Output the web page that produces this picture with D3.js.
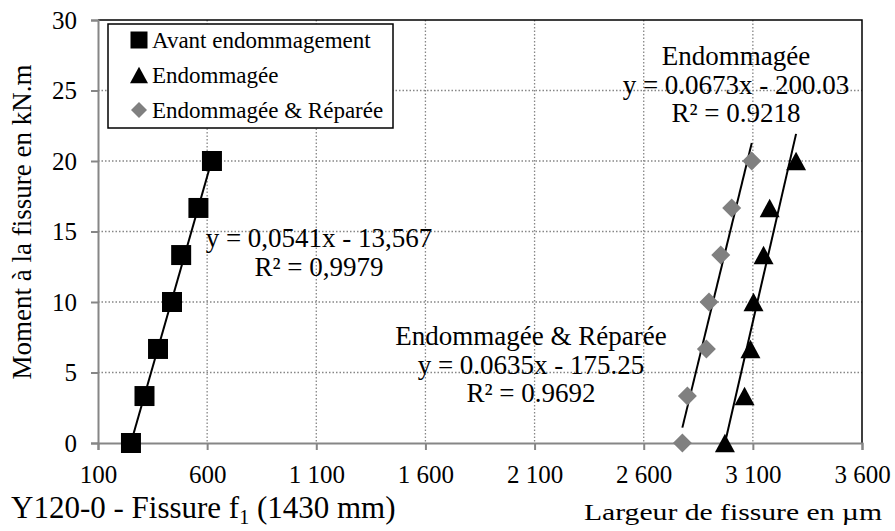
<!DOCTYPE html>
<html><head><meta charset="utf-8">
<script src="https://cdn.jsdelivr.net/npm/d3@7"></script>
<style>body{margin:0;background:#fff}svg{display:block}svg text{font-family:"Liberation Serif","Times New Roman",serif !important;fill:#000}</style>
</head><body><svg id="c" width="895" height="531"></svg>
<script>
const yLevels = [0, 3.33, 6.67, 10, 13.33, 16.67, 20];
const avantX = [251, 313, 375, 439, 481, 560, 622];
const endomX = [2972, 3062, 3089, 3103, 3149, 3177, 3298];
const repareX = [2777, 2800, 2887, 2899, 2953, 3003, 3095];
const seriesNames = ["Avant endommagement", "Endommagée", "Endommagée & Réparée"];
const slopes = [0.0541, 0.0673, 0.0635];
const intercepts = [-13.567, -200.03, -175.25];
const xTicks = [100, 600, 1100, 1600, 2100, 2600, 3100, 3600];
const yTicks = [0, 5, 10, 15, 20, 25, 30];

const FONT = '"Liberation Serif", "Times New Roman", serif';
const svg = d3.select("#c");
const L = 98, R = 862, T = 20, B = 443;
const x = d3.scaleLinear().domain([100, 3600]).range([L, R]);
const y = d3.scaleLinear().domain([0, 30]).range([B, T]);
const fmt = v => d3.format(",")(v).replace(/,/g, "\u00a0");
const grey = "#868686";

const sqSym = {draw(c, s){ const h = s/2; c.rect(-h, -h, s, s); }};
const triSym = {draw(c, s){ const w = s/2, h = s*0.46; c.moveTo(0, -h); c.lineTo(w, h); c.lineTo(-w, h); c.closePath(); }};
const diaSym = {draw(c, s){ const h = s/2; c.moveTo(0, -h); c.lineTo(h, 0); c.lineTo(0, h); c.lineTo(-h, 0); c.closePath(); }};

svg.append("g").selectAll("line").data(xTicks.slice(1, -1)).join("line")
  .attr("x1", d => x(d)).attr("x2", d => x(d)).attr("y1", T).attr("y2", B)
  .attr("stroke", grey).attr("stroke-width", 1.3).attr("stroke-dasharray", "1.5,2");
svg.append("g").selectAll("line").data(yTicks.slice(1, -1)).join("line")
  .attr("x1", L).attr("x2", R).attr("y1", d => y(d)).attr("y2", d => y(d))
  .attr("stroke", grey).attr("stroke-width", 1.3).attr("stroke-dasharray", "1.5,2");

svg.append("path").attr("d", `M${L},${T}H${R}V${B}`).attr("fill", "none").attr("stroke", "#000").attr("stroke-width", 1.5);

const xAxis = svg.append("g").attr("transform", `translate(0,${B})`)
  .call(d3.axisBottom(x).tickValues(xTicks).tickFormat(fmt).tickSize(7));
xAxis.selectAll("text").attr("y", 40).attr("dy", 0);
const yAxis = svg.append("g").attr("transform", `translate(${L},0)`)
  .call(d3.axisLeft(y).tickValues(yTicks).tickSize(7).tickPadding(14));
[xAxis, yAxis].forEach(a => {
  a.attr("font-family", FONT).attr("font-size", 25);
  a.select(".domain").attr("stroke", grey).attr("stroke-width", 2);
  a.selectAll(".tick line").attr("stroke", grey).attr("stroke-width", 2);
  a.selectAll("text").style("font-family", FONT).attr("font-size", 25).attr("fill", "#000");
});

const sets = [avantX, endomX, repareX];
sets.forEach((xs, i) => {
  const x0 = d3.min(xs), x1 = d3.max(xs);
  svg.append("line")
    .attr("x1", x(x0)).attr("y1", y(slopes[i] * x0 + intercepts[i]))
    .attr("x2", x(x1)).attr("y2", y(slopes[i] * x1 + intercepts[i]))
    .attr("stroke", "#000").attr("stroke-width", 2);
});

const sym = [sqSym, triSym, diaSym];
const sizes = [20, 20, 19];
const fills = ["#000", "#000", "#808080"];
sets.forEach((xs, i) => {
  svg.append("g").selectAll("path").data(xs.map((v, k) => [v, yLevels[k]])).join("path")
    .attr("transform", d => `translate(${x(d[0])},${y(d[1])})`)
    .attr("d", d3.symbol(sym[i], sizes[i])).attr("fill", fills[i]);
});

const lg = svg.append("g");
lg.append("rect").attr("x", 108).attr("y", 24).attr("width", 285).attr("height", 104)
  .attr("fill", "#fff").attr("stroke", "#000").attr("stroke-width", 1.5);
seriesNames.forEach((n, i) => {
  const base = 48 + i * 35;
  lg.append("path").attr("transform", `translate(139,${base - 8})`)
    .attr("d", d3.symbol(sym[i], [17, 18, 16][i])).attr("fill", fills[i]);
  lg.append("text").attr("x", 152).attr("y", base).style("font-family", FONT).attr("font-size", 23).text(n);
});

const ann = [
  {lines: ["y = 0,0541x - 13,567", "R² = 0,9979"], cx: 319, y0: 247},
  {lines: ["Endommagée", "y = 0.0673x - 200.03", "R² = 0.9218"], cx: 736, y0: 65},
  {lines: ["Endommagée & Réparée", "y = 0.0635x - 175.25", "R² = 0.9692"], cx: 531, y0: 345}
];
ann.forEach(a => {
  a.lines.forEach((t, k) => {
    svg.append("text").attr("x", a.cx).attr("y", a.y0 + k * 28.7).attr("text-anchor", "middle")
      .style("font-family", FONT).attr("font-size", 27).text(t);
  });
});

svg.append("text").attr("transform", "translate(31,222) rotate(-90)").attr("text-anchor", "middle")
  .style("font-family", FONT).attr("font-size", 27).text("Moment à la fissure en kN.m");

const t1 = svg.append("text").attr("x", 11).attr("y", 518).style("font-family", FONT).attr("font-size", 31);
t1.append("tspan").text("Y120-0 - Fissure f");
t1.append("tspan").attr("font-size", 20).attr("dy", 6).text("1");
t1.append("tspan").attr("dy", -6).text(" (1430 mm)");
svg.append("text").attr("x", 584).attr("y", 520).style("font-family", FONT).attr("font-size", 24)
  .attr("textLength", 298).attr("lengthAdjust", "spacingAndGlyphs").text("Largeur de fissure en µm");
</script></body></html>
